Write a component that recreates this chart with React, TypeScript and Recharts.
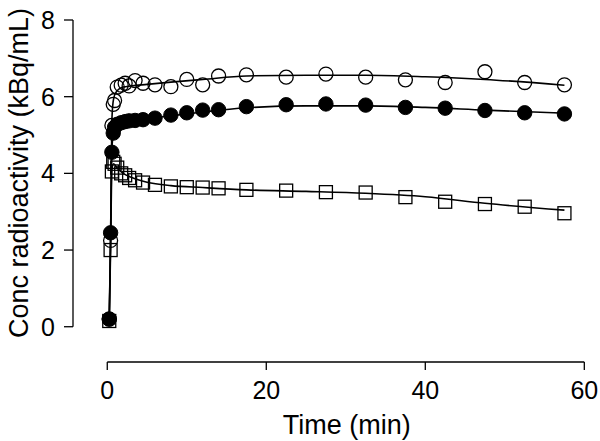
import React from 'react';
import { ComposedChart, Line, XAxis, YAxis, ReferenceLine } from 'recharts';

// sampling times (min) for measured points
const times = [
  0.25, 0.42, 0.58, 0.75, 0.92, 1.25, 1.75, 2.25, 2.75, 3.5, 4.5, 6, 8, 10, 12, 14,
  17.5, 22.5, 27.5, 32.5, 37.5, 42.5, 47.5, 52.5, 57.5,
];

// measured concentrations (kBq/mL)
const openCircles = [
  0.2, 2.25, 5.25, 5.8, 5.9, 6.25, 6.3, 6.35, 6.28, 6.42, 6.35, 6.31, 6.26, 6.45, 6.31, 6.54,
  6.57, 6.51, 6.59, 6.51, 6.44, 6.37, 6.65, 6.37, 6.31,
];
const filledCircles = [
  0.2, 2.45, 4.55, 5.05, 5.2, 5.28, 5.32, 5.35, 5.37, 5.38, 5.4, 5.44, 5.52, 5.58, 5.65, 5.66,
  5.74, 5.79, 5.81, 5.78, 5.72, 5.7, 5.64, 5.58, 5.55,
];
const openSquares = [
  0.15, 2.0, 4.05, 4.3, 4.25, 4.15, 4.0, 3.95, 3.88, 3.82, 3.76, 3.7, 3.66, 3.64, 3.63, 3.61,
  3.57, 3.55, 3.51, 3.5, 3.38, 3.26, 3.2, 3.13, 2.96,
];

// fitted curves, read at these times
const fitTimes = [0.25, 0.42, 0.58, 0.8, 1.2, 2, 3, 5, 8, 12, 17.5, 25, 32.5, 40, 47.5, 57.5];
const openFit = [0.2, 2.3, 5.4, 5.95, 6.15, 6.25, 6.28, 6.32, 6.38, 6.45, 6.54, 6.56, 6.56, 6.52, 6.45, 6.3];
const filledFit = [0.2, 2.45, 4.6, 5.1, 5.25, 5.32, 5.36, 5.42, 5.5, 5.6, 5.71, 5.76, 5.76, 5.72, 5.65, 5.57];
const squareFit = [0.15, 2.0, 4.1, 4.25, 4.15, 4.0, 3.9, 3.77, 3.68, 3.63, 3.57, 3.53, 3.48, 3.39, 3.22, 3.04];

const xTicks = [0, 20, 40, 60];
const yTicks = [0, 2, 4, 6, 8];

const toRows = (ts: number[], vs: number[]) => ts.map((t, i) => ({ t, v: vs[i] }));

const FONT = '"Liberation Sans", Arial, Helvetica, sans-serif';
const X_MIN = -4.31;
const Y_MIN = -0.92;

const OpenCircle = (p: any) => (
  <circle key={p.index} cx={p.cx} cy={p.cy} r={7} fill="none" stroke="#000" strokeWidth={1.3} />
);
const FilledCircle = (p: any) => (
  <circle key={p.index} cx={p.cx} cy={p.cy} r={7.2} fill="#000" stroke="#000" strokeWidth={1} />
);
const OpenSquare = (p: any) => (
  <rect
    key={p.index}
    x={p.cx - 6.5}
    y={p.cy - 6.5}
    width={13}
    height={13}
    fill="none"
    stroke="#000"
    strokeWidth={1.3}
  />
);

export default function App() {
  const fits = [openFit, filledFit, squareFit];
  const points: [number[], any][] = [
    [openCircles, OpenCircle],
    [filledCircles, FilledCircle],
    [openSquares, OpenSquare],
  ];

  return (
    <div style={{ position: 'absolute', left: 0, top: 0, width: 600, height: 441, background: '#fff' }}>
      <ComposedChart
        width={600}
        height={441}
        margin={{ top: 20, right: 4, left: 0, bottom: 0 }}
        style={{ fontFamily: FONT }}
      >
        <XAxis
          dataKey="t"
          type="number"
          domain={[X_MIN, 61.47]}
          allowDataOverflow
          ticks={xTicks}
          axisLine={false}
          tickLine={{ stroke: '#000', strokeWidth: 1.3 }}
          tickSize={8}
          tickMargin={11}
          height={79}
          tick={{ fill: '#000', fontSize: 25, fontFamily: FONT }}
          label={() => (
            <text x={346.7} y={434} textAnchor="middle" fontSize={27} fontFamily={FONT} fill="#000">
              Time (min)
            </text>
          )}
        />
        <YAxis
          dataKey="v"
          type="number"
          domain={[Y_MIN, 8]}
          allowDataOverflow
          ticks={yTicks}
          axisLine={false}
          tickLine={{ stroke: '#000', strokeWidth: 1.3 }}
          tickSize={9}
          tickMargin={9}
          width={73}
          tick={{ fill: '#000', fontSize: 25, fontFamily: FONT }}
          label={() => (
            <text
              x={28}
              y={173}
              transform="rotate(-90 28 173)"
              textAnchor="middle"
              fontSize={27}
              fontFamily={FONT}
              fill="#000"
            >
              Conc radioactivity (kBq/mL)
            </text>
          )}
        />
        <ReferenceLine
          segment={[{ x: 0, y: Y_MIN }, { x: 60, y: Y_MIN }]}
          stroke="#000"
          strokeWidth={1.3}
          ifOverflow="visible"
        />
        <ReferenceLine
          segment={[{ x: X_MIN, y: 0 }, { x: X_MIN, y: 8 }]}
          stroke="#000"
          strokeWidth={1.3}
          ifOverflow="visible"
        />
        {fits.map((f, i) => (
          <Line
            key={'fit' + i}
            data={toRows(fitTimes, f)}
            dataKey="v"
            type="monotone"
            stroke="#000"
            strokeWidth={1.6}
            dot={false}
            activeDot={false}
            isAnimationActive={false}
          />
        ))}
        {points.map(([vals, Shape], i) => (
          <Line
            key={'pts' + i}
            data={toRows(times, vals)}
            dataKey="v"
            stroke="none"
            dot={Shape}
            activeDot={false}
            isAnimationActive={false}
          />
        ))}
      </ComposedChart>
    </div>
  );
}
